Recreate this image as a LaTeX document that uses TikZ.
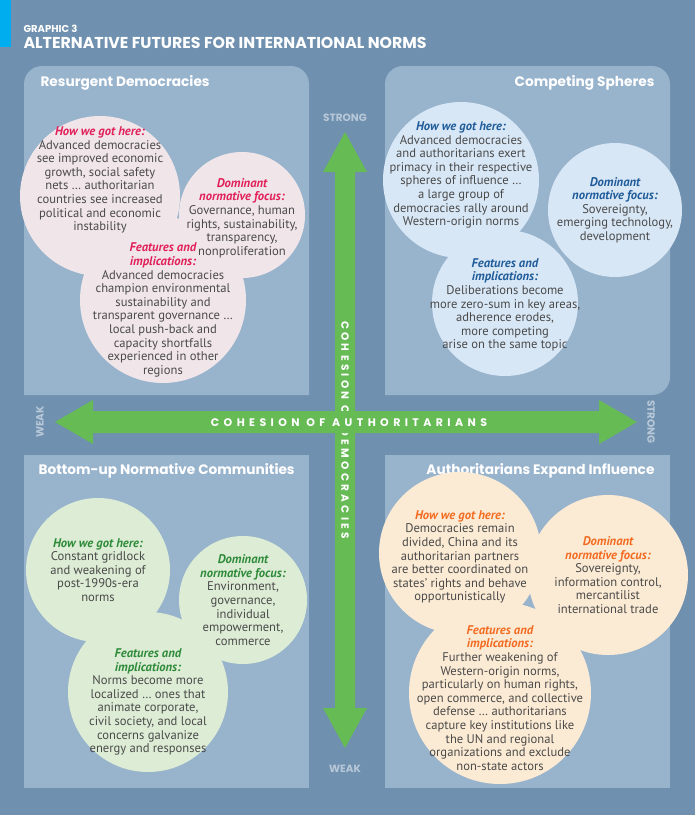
\documentclass[tikz,border=0pt]{standalone}
\usepackage{fontspec}
\setmainfont{PT Sans}
\newfontfamily\headf{Poppins}
\definecolor{bg}{HTML}{6F90AE}
\definecolor{panel}{HTML}{98B3CC}
\definecolor{cpink}{HTML}{F0E5E9}
\definecolor{cblue}{HTML}{D8E7F6}
\definecolor{cgreen}{HTML}{DDECD5}
\definecolor{corange}{HTML}{FCEBD4}
\definecolor{hred}{HTML}{E0215A}
\definecolor{hblue}{HTML}{1F5C99}
\definecolor{hgreen}{HTML}{2E8B3A}
\definecolor{horange}{HTML}{F26B21}
\definecolor{agreen}{HTML}{66BB55}
\definecolor{axlab}{HTML}{B7C8D8}
\definecolor{txt}{HTML}{4A4A4A}
\definecolor{stripe}{HTML}{00AEEF}
\tikzset{
 bub/.style={inner sep=0pt,align=center,text=txt,font=\fontsize{12.6}{13.6}\selectfont},
 ptitle/.style={text=white,font=\headf\bfseries\fontsize{13.7}{15}\selectfont},
 axl/.style={text=axlab,font=\headf\bfseries\fontsize{10.5}{12}\selectfont}
}
\newcommand{\hd}[2]{{\color{#1}\itshape\bfseries #2}}
\begin{document}
\begin{tikzpicture}[x=1pt,y=-1pt]
\fill[bg] (0,0) rectangle (695,815);
\useasboundingbox (0,0) rectangle (695,815);
\fill[stripe] (0,0) rectangle (11,47);
\node[anchor=west,text=white,font=\headf\bfseries\fontsize{10}{11}\selectfont] (g3) at (20,29) {GRAPHIC 3};
\node[anchor=west,text=white,font=\headf\bfseries\fontsize{15.8}{17}\selectfont] (ttl) at (20,43) {ALTERNATIVE FUTURES FOR INTERNATIONAL NORMS};
% panels
\fill[panel,rounded corners=18] (24,395) -- (24,66) -- (309,66) [sharp corners] -- (309,395) -- cycle;
\fill[panel,rounded corners=18] (385,395) -- (385,66) -- (670,66) -- (670,395) [sharp corners]-- cycle;
\fill[panel] (24,455) rectangle (309,788);
\fill[panel] (385,455) rectangle (670,788);
\node[ptitle,anchor=west] (p1) at (37,83) {Resurgent Democracies};
\node[ptitle,anchor=east] (p2) at (658,83) {Competing Spheres};
\node[ptitle,anchor=west] (p3) at (35,471) {Bottom-up Normative Communities};
\node[ptitle,anchor=east] (p4) at (658,471) {Authoritarians Expand Influence};
% circle fills
\fill[cpink] (100,196) circle[radius=80];
\fill[cpink] (242,215) circle[radius=63];
\fill[cpink] (163,300) circle[radius=83];
\fill[cblue] (461,180) circle[radius=78];
\fill[cblue] (615,210) circle[radius=67];
\fill[cblue] (505,303) circle[radius=73];
\fill[cgreen] (98,570) circle[radius=72];
\fill[cgreen] (243,600) circle[radius=64];
\fill[cgreen] (148,692) circle[radius=80];
\fill[corange] (460,553) circle[radius=81];
\fill[corange] (608,575) circle[radius=80];
\fill[corange] (500,693) circle[radius=91];
% texts
\node[bub] (a1) at (100,180) {\hd{hred}{How we got here:}\\Advanced democracies\\see improved economic\\growth, social safety\\nets \dots\ authoritarian\\countries see increased\\political and economic\\instability};
\node[bub] (a2) at (242,218) {\hd{hred}{Dominant}\\\hd{hred}{normative focus:}\\Governance, human\\rights, sustainability,\\transparency,\\nonproliferation};
\node[bub] (a3) at (163,310) {\hd{hred}{Features and}\\\hd{hred}{implications:}\\Advanced democracies\\champion environmental\\sustainability and\\transparent governance \dots\\local push-back and\\capacity shortfalls\\experienced in other\\regions};
\node[bub] (b1) at (461,175) {\hd{hblue}{How we got here:}\\Advanced democracies\\and authoritarians exert\\primacy in their respective\\spheres of influence \dots\\a large group of\\democracies rally around\\Western-origin norms};
\node[bub] (b2) at (615,210) {\hd{hblue}{Dominant}\\\hd{hblue}{normative focus:}\\Sovereignty,\\emerging technology,\\development};
\node[bub] (b3) at (505,305) {\hd{hblue}{Features and}\\\hd{hblue}{implications:}\\Deliberations become\\more zero-sum in key areas,\\adherence erodes,\\more competing\\arise on the same topic};
\node[bub] (c1) at (98,570) {\hd{hgreen}{How we got here:}\\Constant gridlock\\and weakening of\\post-1990s-era\\norms};
\node[bub] (c2) at (243,600) {\hd{hgreen}{Dominant}\\\hd{hgreen}{normative focus:}\\Environment,\\governance,\\individual\\empowerment,\\commerce};
\node[bub] (c3) at (148,702) {\hd{hgreen}{Features and}\\\hd{hgreen}{implications:}\\Norms become more\\localized \dots\ ones that\\animate corporate,\\civil society, and local\\concerns galvanize\\energy and responses};
\node[bub] (d1) at (460,557) {\hd{horange}{How we got here:}\\Democracies remain\\divided, China and its\\authoritarian partners\\are better coordinated on\\states' rights and behave\\opportunistically};
\node[bub] (d2) at (608,575) {\hd{horange}{Dominant}\\\hd{horange}{normative focus:}\\Sovereignty,\\information control,\\mercantilist\\international trade};
\node[bub] (d3) at (500,698) {\hd{horange}{Features and}\\\hd{horange}{implications:}\\Further weakening of\\Western-origin norms,\\particularly on human rights,\\open commerce, and collective\\defense \dots\ authoritarians\\capture key institutions like\\the UN and regional\\organizations and exclude\\non-state actors};
% vertical arrow
\fill[agreen] (345,132) -- (367,172) -- (355,172) -- (355,708) -- (367,708) -- (345,748) -- (323,708) -- (335,708) -- (335,172) -- (323,172) -- cycle;
\node[rotate=-90,text=white,font=\headf\bfseries\fontsize{10.5}{12}\selectfont\addfontfeature{LetterSpace=32}] (vt) at (345,430) {COHESION OF DEMOCRACIES};
% horizontal arrow
\fill[agreen] (55,422) -- (93,400) -- (93,411) -- (599,411) -- (599,400) -- (637,422) -- (599,444) -- (599,433) -- (93,433) -- (93,444) -- cycle;
\node[text=white,font=\headf\bfseries\fontsize{11}{12}\selectfont\addfontfeature{LetterSpace=40}] (ht) at (349,423) {COHESION OF AUTHORITARIANS};
\node[axl] (st) at (345,118) {STRONG};
\node[axl] (wk) at (345,769) {WEAK};
\node[axl,rotate=90] (wl) at (40,422) {WEAK};
\node[axl,rotate=-90] (sr) at (651,422) {STRONG};
\end{tikzpicture}
\end{document}
